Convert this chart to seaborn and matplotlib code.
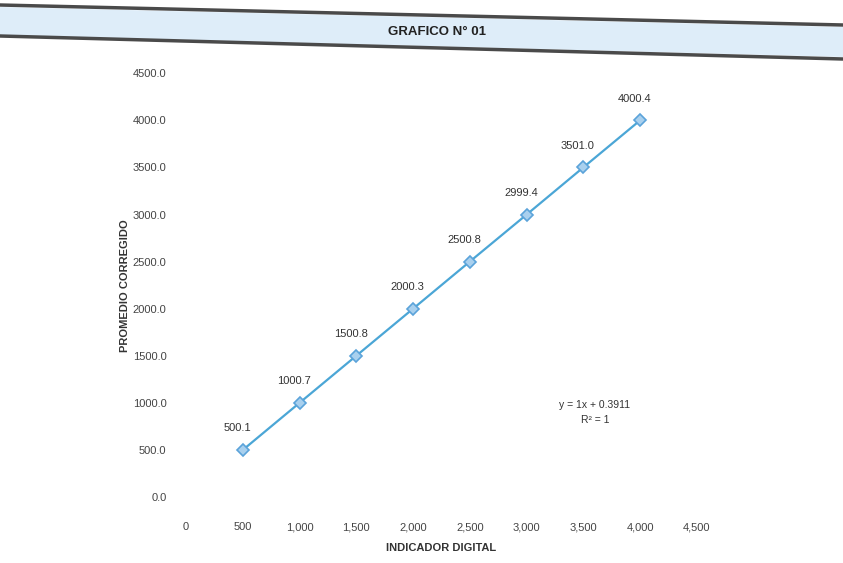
import matplotlib
matplotlib.use("Agg")
import matplotlib.pyplot as plt
from matplotlib.lines import Line2D
from matplotlib.patches import Polygon
import seaborn as sns
import pandas as pd

# Calibration readings
indicador = [500, 1000, 1500, 2000, 2500, 3000, 3500, 4000]
promedio = [500.1, 1000.7, 1500.8, 2000.3, 2500.8, 2999.4, 3501.0, 4000.4]
x_ticks = [0, 500, 1000, 1500, 2000, 2500, 3000, 3500, 4000, 4500]
y_ticks = [0, 500, 1000, 1500, 2000, 2500, 3000, 3500, 4000, 4500]

title = "GRAFICO N° 01"
x_label = "INDICADOR DIGITAL"
y_label = "PROMEDIO CORREGIDO"
equation = "y = 1x + 0.3911\nR² = 1"

df = pd.DataFrame({"x": indicador, "y": promedio})

sns.set_theme(style="white")
plt.rcParams["font.family"] = ["Liberation Sans", "DejaVu Sans"]

fig = plt.figure(figsize=(8.43, 5.63), dpi=100)
ax = fig.add_axes([0.2206, 0.117, 0.6062, 0.753])

line_color = "#4ba6d6"
sns.lineplot(data=df, x="x", y="y", ax=ax, color=line_color, linewidth=1.6,
             marker="D", markersize=6, markerfacecolor="#a9d0ee",
             markeredgecolor="#5ba3da", markeredgewidth=1.2)

for xv, yv in zip(indicador, promedio):
    ax.annotate(f"{yv:.1f}", (xv, yv), xytext=(-4, 12), textcoords="offset points",
                ha="center", va="bottom", fontsize=8, color="#333333")

ax.text(3600, 900, equation, ha="center", va="center", fontsize=7.5,
        color="#333333", linespacing=1.6)

ax.set_xlim(0, 4500)
ax.set_ylim(0, 4500)
ax.set_xticks(x_ticks)
ax.set_yticks(y_ticks)
ax.set_xticklabels([f"{v:,}" for v in x_ticks])
ax.set_yticklabels([f"{v:.1f}" for v in y_ticks])
ax.tick_params(axis="x", labelsize=8, colors="#444444", pad=18, length=0)
ax.tick_params(axis="y", labelsize=8, colors="#444444", pad=14, length=0)
for s in ax.spines.values():
    s.set_visible(False)
ax.grid(False)

ax.set_xlabel(x_label, fontsize=8, fontweight="bold", color="#333333", labelpad=8)
ax.set_ylabel(y_label, fontsize=8, fontweight="bold", color="#333333", labelpad=2)

# Title banner across the top of the page
band = Polygon([(0, 1 - 7 / 563), (1, 1 - 27 / 563), (1, 1 - 57 / 563), (0, 1 - 35 / 563)],
               closed=True, transform=fig.transFigure, facecolor="#deedf9",
               edgecolor="none", zorder=0)
fig.patches.append(band)
fig.add_artist(Line2D([0, 1], [1 - 5 / 563, 1 - 25 / 563], transform=fig.transFigure,
                      color="#4a4a4a", linewidth=2.5))
fig.add_artist(Line2D([0, 1], [1 - 36 / 563, 1 - 59 / 563], transform=fig.transFigure,
                      color="#4a4a4a", linewidth=2.5))
fig.text(437 / 843, 1 - 32 / 563, title, ha="center", va="center", fontsize=9.5,
         fontweight="bold", color="#222222")

fig.savefig("out.png", dpi=100)
